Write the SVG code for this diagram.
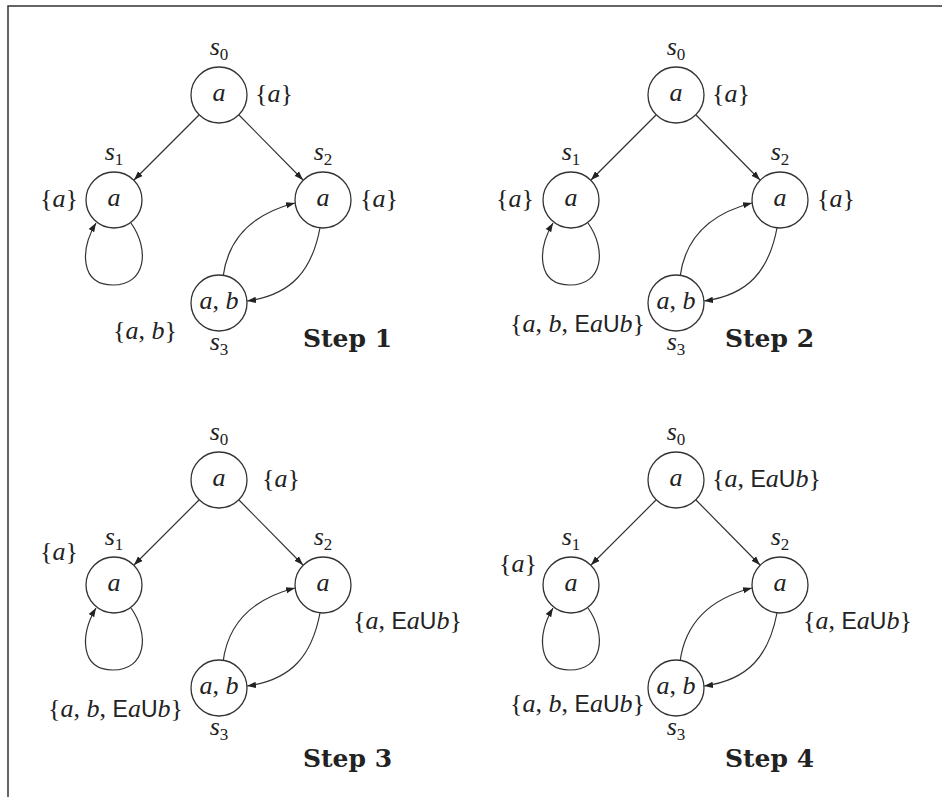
<svg xmlns="http://www.w3.org/2000/svg" width="942" height="797" viewBox="0 0 942 797">
<style>
.st{fill:#fff;stroke:#333;stroke-width:1.3}
.e{fill:none;stroke:#333;stroke-width:1.2}
text{font-size:26px;fill:#222}
.i{font-style:italic}
.sub{font-size:17px;font-style:normal}
.c{text-anchor:middle}
</style>
<defs>
<marker id="ah" markerWidth="10" markerHeight="8" refX="9" refY="4" orient="auto" markerUnits="userSpaceOnUse">
<path d="M0,0.8 L9,4 L0,7.2 Z" fill="#222"/>
</marker>
</defs>
<rect width="942" height="797" fill="#fff"/>
<g id="frame" fill="none" stroke="#333" stroke-width="1.5">
<path d="M8,797 L8,6 L942,6"/>
</g>
<g id="step1">
<g id="p1-connectors">
<path class="e" d="M199,115 L134,180" marker-end="url(#ah)"/>
<path class="e" d="M239,115 L303,180" marker-end="url(#ah)"/>
<path class="e" d="M131,223 C150,250 146,285 113,285 C80,285 80,250 96,223" marker-end="url(#ah)"/>
<path class="e" d="M223,277 C228,238 252,214 295,203" marker-end="url(#ah)"/>
<path class="e" d="M320,228 C312,270 292,295 247,301" marker-end="url(#ah)"/>
</g>
<g id="p1-s0"><circle class="st" cx="219" cy="95" r="28"/><text style="font-family:'Liberation Serif',serif" class="c" x="219" y="101"><tspan class="i">a</tspan></text><text style="font-family:'Liberation Serif',serif" class="c" x="219" y="55"><tspan class="i">s</tspan><tspan class="sub" dy="5">0</tspan></text><text style="font-family:'Liberation Serif',serif" x="255" y="102">{<tspan class="i">a</tspan>}</text></g>
<g id="p1-s1"><circle class="st" cx="114" cy="200" r="28"/><text style="font-family:'Liberation Serif',serif" class="c" x="114" y="206"><tspan class="i">a</tspan></text><text style="font-family:'Liberation Serif',serif" class="c" x="114" y="160"><tspan class="i">s</tspan><tspan class="sub" dy="5">1</tspan></text><text style="font-family:'Liberation Serif',serif" x="78" y="207" text-anchor="end">{<tspan class="i">a</tspan>}</text></g>
<g id="p1-s2"><circle class="st" cx="323" cy="200" r="28"/><text style="font-family:'Liberation Serif',serif" class="c" x="323" y="206"><tspan class="i">a</tspan></text><text style="font-family:'Liberation Serif',serif" class="c" x="323" y="160"><tspan class="i">s</tspan><tspan class="sub" dy="5">2</tspan></text><text style="font-family:'Liberation Serif',serif" x="360" y="207">{<tspan class="i">a</tspan>}</text></g>
<g id="p1-s3"><circle class="st" cx="219" cy="303" r="28"/><text style="font-family:'Liberation Serif',serif" class="c" x="219" y="309"><tspan class="i">a</tspan>, <tspan class="i">b</tspan></text><text style="font-family:'Liberation Serif',serif" class="c" x="219" y="350"><tspan class="i">s</tspan><tspan class="sub" dy="5">3</tspan></text><text style="font-family:'Liberation Serif',serif" x="113" y="339">{<tspan class="i">a</tspan>, <tspan class="i">b</tspan>}</text></g>
<text style="font-family:'DejaVu Serif',serif;font-weight:bold;font-size:25px" x="303" y="347">Step 1</text>
</g>
<g id="step2" transform="translate(457,0)">
<g id="p2-connectors">
<path class="e" d="M199,115 L134,180" marker-end="url(#ah)"/>
<path class="e" d="M239,115 L303,180" marker-end="url(#ah)"/>
<path class="e" d="M131,223 C150,250 146,285 113,285 C80,285 80,250 96,223" marker-end="url(#ah)"/>
<path class="e" d="M223,277 C228,238 252,214 295,203" marker-end="url(#ah)"/>
<path class="e" d="M320,228 C312,270 292,295 247,301" marker-end="url(#ah)"/>
</g>
<g id="p2-s0"><circle class="st" cx="219" cy="95" r="28"/><text style="font-family:'Liberation Serif',serif" class="c" x="219" y="101"><tspan class="i">a</tspan></text><text style="font-family:'Liberation Serif',serif" class="c" x="219" y="55"><tspan class="i">s</tspan><tspan class="sub" dy="5">0</tspan></text><text style="font-family:'Liberation Serif',serif" x="255" y="102">{<tspan class="i">a</tspan>}</text></g>
<g id="p2-s1"><circle class="st" cx="114" cy="200" r="28"/><text style="font-family:'Liberation Serif',serif" class="c" x="114" y="206"><tspan class="i">a</tspan></text><text style="font-family:'Liberation Serif',serif" class="c" x="114" y="160"><tspan class="i">s</tspan><tspan class="sub" dy="5">1</tspan></text><text style="font-family:'Liberation Serif',serif" x="77" y="207" text-anchor="end">{<tspan class="i">a</tspan>}</text></g>
<g id="p2-s2"><circle class="st" cx="323" cy="200" r="28"/><text style="font-family:'Liberation Serif',serif" class="c" x="323" y="206"><tspan class="i">a</tspan></text><text style="font-family:'Liberation Serif',serif" class="c" x="323" y="160"><tspan class="i">s</tspan><tspan class="sub" dy="5">2</tspan></text><text style="font-family:'Liberation Serif',serif" x="360" y="207">{<tspan class="i">a</tspan>}</text></g>
<g id="p2-s3"><circle class="st" cx="219" cy="303" r="28"/><text style="font-family:'Liberation Serif',serif" class="c" x="219" y="309"><tspan class="i">a</tspan>, <tspan class="i">b</tspan></text><text style="font-family:'Liberation Serif',serif" class="c" x="219" y="350"><tspan class="i">s</tspan><tspan class="sub" dy="5">3</tspan></text><text style="font-family:'Liberation Serif',serif" x="188" y="332" text-anchor="end">{<tspan class="i">a</tspan>, <tspan class="i">b</tspan>, <tspan style="font-family:'Liberation Sans',sans-serif;font-size:23px;font-style:normal">E</tspan><tspan class="i">a</tspan><tspan style="font-family:'Liberation Sans',sans-serif;font-size:23px;font-style:normal">U</tspan><tspan class="i">b</tspan>}</text></g>
<text style="font-family:'DejaVu Serif',serif;font-weight:bold;font-size:25px" x="268" y="347">Step 2</text>
</g>
<g id="step3" transform="translate(0,385)">
<g id="p3-connectors">
<path class="e" d="M199,115 L134,180" marker-end="url(#ah)"/>
<path class="e" d="M239,115 L303,180" marker-end="url(#ah)"/>
<path class="e" d="M131,223 C150,250 146,285 113,285 C80,285 80,250 96,223" marker-end="url(#ah)"/>
<path class="e" d="M223,277 C228,238 252,214 295,203" marker-end="url(#ah)"/>
<path class="e" d="M320,228 C312,270 292,295 247,301" marker-end="url(#ah)"/>
</g>
<g id="p3-s0"><circle class="st" cx="219" cy="95" r="28"/><text style="font-family:'Liberation Serif',serif" class="c" x="219" y="101"><tspan class="i">a</tspan></text><text style="font-family:'Liberation Serif',serif" class="c" x="219" y="55"><tspan class="i">s</tspan><tspan class="sub" dy="5">0</tspan></text><text style="font-family:'Liberation Serif',serif" x="262" y="102">{<tspan class="i">a</tspan>}</text></g>
<g id="p3-s1"><circle class="st" cx="114" cy="200" r="28"/><text style="font-family:'Liberation Serif',serif" class="c" x="114" y="206"><tspan class="i">a</tspan></text><text style="font-family:'Liberation Serif',serif" class="c" x="114" y="160"><tspan class="i">s</tspan><tspan class="sub" dy="5">1</tspan></text><text style="font-family:'Liberation Serif',serif" x="78" y="175" text-anchor="end">{<tspan class="i">a</tspan>}</text></g>
<g id="p3-s2"><circle class="st" cx="323" cy="200" r="28"/><text style="font-family:'Liberation Serif',serif" class="c" x="323" y="206"><tspan class="i">a</tspan></text><text style="font-family:'Liberation Serif',serif" class="c" x="323" y="160"><tspan class="i">s</tspan><tspan class="sub" dy="5">2</tspan></text><text style="font-family:'Liberation Serif',serif" x="353" y="244">{<tspan class="i">a</tspan>, <tspan style="font-family:'Liberation Sans',sans-serif;font-size:23px;font-style:normal">E</tspan><tspan class="i">a</tspan><tspan style="font-family:'Liberation Sans',sans-serif;font-size:23px;font-style:normal">U</tspan><tspan class="i">b</tspan>}</text></g>
<g id="p3-s3"><circle class="st" cx="219" cy="303" r="28"/><text style="font-family:'Liberation Serif',serif" class="c" x="219" y="309"><tspan class="i">a</tspan>, <tspan class="i">b</tspan></text><text style="font-family:'Liberation Serif',serif" class="c" x="219" y="350"><tspan class="i">s</tspan><tspan class="sub" dy="5">3</tspan></text><text style="font-family:'Liberation Serif',serif" x="183" y="332" text-anchor="end">{<tspan class="i">a</tspan>, <tspan class="i">b</tspan>, <tspan style="font-family:'Liberation Sans',sans-serif;font-size:23px;font-style:normal">E</tspan><tspan class="i">a</tspan><tspan style="font-family:'Liberation Sans',sans-serif;font-size:23px;font-style:normal">U</tspan><tspan class="i">b</tspan>}</text></g>
<text style="font-family:'DejaVu Serif',serif;font-weight:bold;font-size:25px" x="303" y="382">Step 3</text>
</g>
<g id="step4" transform="translate(457,385)">
<g id="p4-connectors">
<path class="e" d="M199,115 L134,180" marker-end="url(#ah)"/>
<path class="e" d="M239,115 L303,180" marker-end="url(#ah)"/>
<path class="e" d="M131,223 C150,250 146,285 113,285 C80,285 80,250 96,223" marker-end="url(#ah)"/>
<path class="e" d="M223,277 C228,238 252,214 295,203" marker-end="url(#ah)"/>
<path class="e" d="M320,228 C312,270 292,295 247,301" marker-end="url(#ah)"/>
</g>
<g id="p4-s0"><circle class="st" cx="219" cy="95" r="28"/><text style="font-family:'Liberation Serif',serif" class="c" x="219" y="101"><tspan class="i">a</tspan></text><text style="font-family:'Liberation Serif',serif" class="c" x="219" y="55"><tspan class="i">s</tspan><tspan class="sub" dy="5">0</tspan></text><text style="font-family:'Liberation Serif',serif" x="255" y="102">{<tspan class="i">a</tspan>, <tspan style="font-family:'Liberation Sans',sans-serif;font-size:23px;font-style:normal">E</tspan><tspan class="i">a</tspan><tspan style="font-family:'Liberation Sans',sans-serif;font-size:23px;font-style:normal">U</tspan><tspan class="i">b</tspan>}</text></g>
<g id="p4-s1"><circle class="st" cx="114" cy="200" r="28"/><text style="font-family:'Liberation Serif',serif" class="c" x="114" y="206"><tspan class="i">a</tspan></text><text style="font-family:'Liberation Serif',serif" class="c" x="114" y="160"><tspan class="i">s</tspan><tspan class="sub" dy="5">1</tspan></text><text style="font-family:'Liberation Serif',serif" x="80" y="187" text-anchor="end">{<tspan class="i">a</tspan>}</text></g>
<g id="p4-s2"><circle class="st" cx="323" cy="200" r="28"/><text style="font-family:'Liberation Serif',serif" class="c" x="323" y="206"><tspan class="i">a</tspan></text><text style="font-family:'Liberation Serif',serif" class="c" x="323" y="160"><tspan class="i">s</tspan><tspan class="sub" dy="5">2</tspan></text><text style="font-family:'Liberation Serif',serif" x="346" y="244">{<tspan class="i">a</tspan>, <tspan style="font-family:'Liberation Sans',sans-serif;font-size:23px;font-style:normal">E</tspan><tspan class="i">a</tspan><tspan style="font-family:'Liberation Sans',sans-serif;font-size:23px;font-style:normal">U</tspan><tspan class="i">b</tspan>}</text></g>
<g id="p4-s3"><circle class="st" cx="219" cy="303" r="28"/><text style="font-family:'Liberation Serif',serif" class="c" x="219" y="309"><tspan class="i">a</tspan>, <tspan class="i">b</tspan></text><text style="font-family:'Liberation Serif',serif" class="c" x="219" y="350"><tspan class="i">s</tspan><tspan class="sub" dy="5">3</tspan></text><text style="font-family:'Liberation Serif',serif" x="188" y="327" text-anchor="end">{<tspan class="i">a</tspan>, <tspan class="i">b</tspan>, <tspan style="font-family:'Liberation Sans',sans-serif;font-size:23px;font-style:normal">E</tspan><tspan class="i">a</tspan><tspan style="font-family:'Liberation Sans',sans-serif;font-size:23px;font-style:normal">U</tspan><tspan class="i">b</tspan>}</text></g>
<text style="font-family:'DejaVu Serif',serif;font-weight:bold;font-size:25px" x="268" y="382">Step 4</text>
</g>
</svg>
